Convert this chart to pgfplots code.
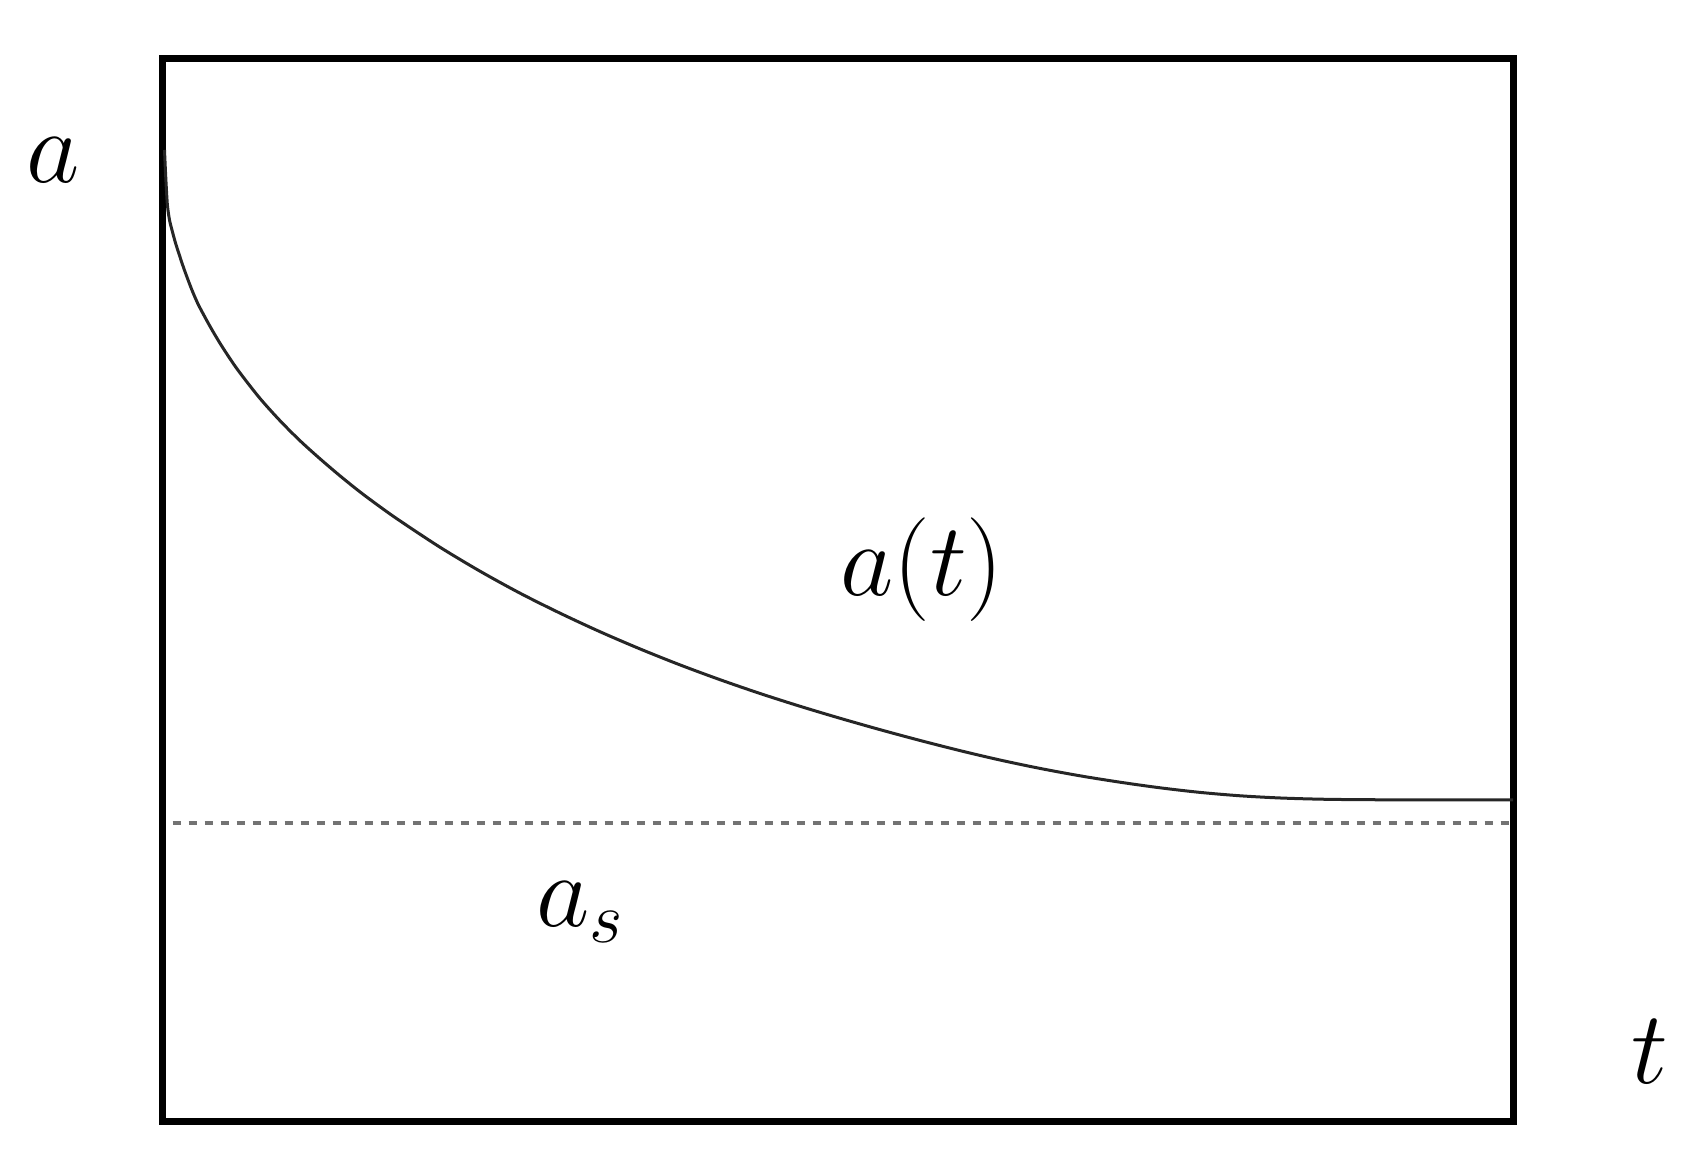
\documentclass[border=0pt]{standalone}
\usepackage{pgfplots}
\pgfplotsset{compat=1.18}
\begin{document}
\begin{tikzpicture}
\path[use as bounding box] (0,0) rectangle (340pt,234.8pt);
\begin{axis}[
  at={(32.6pt,10.4pt)}, anchor=south west,
  width=270.1pt, height=212.7pt, scale only axis,
  xmin=163.5, xmax=1513.5, ymin=52, ymax=1115.5,
  axis line style={line width=1.4pt},
  xtick=\empty, ytick=\empty,
  clip=false,
]
\addplot[black!85, line width=0.6pt, smooth, tension=0.5] coordinates {
(165,1024) (166,1002) (167,983) (168,968) (170,954) (173,942) (176,931) (180,918.5)
(184,906.5) (188,895.5) (192,885) (196,875.5) (200,867) (210,848.5) (220,831.5)
(230,816) (240,801.7) (260,776.1) (280,753.8) (300,733.7) (320,715.6) (340,698.5)
(360,682.4) (380,667.5) (400,653.4) (440,627) (480,603) (520,581) (560,561)
(600,542.4) (640,525.2) (680,509.2) (720,494.4) (760,480.6) (800,467.8)
(840,455.8) (880,444.4) (920,433.6) (960,423.4) (1000,414) (1040,405.6)
(1080,398.2) (1120,391.8) (1160,386.2) (1200,381.6) (1240,378.2) (1280,376)
(1320,374.8) (1360,374.3) (1400,374.2) (1513,374.2)
};
\addplot[black!55, line width=0.7pt, dash pattern=on 1.6pt off 1.6pt] coordinates {
(173,351) (1513,351)
};
\node at (axis cs:54,1014) {\fontsize{22}{26}\selectfont $a$};
\node at (axis cs:1650,122) {\fontsize{22}{26}\selectfont $t$};
\node at (axis cs:922,604) {\fontsize{22}{26}\selectfont $a(t)$};
\node at (axis cs:581,262) {\fontsize{22}{26}\selectfont $a_s$};
\end{axis}
\end{tikzpicture}
\end{document}
